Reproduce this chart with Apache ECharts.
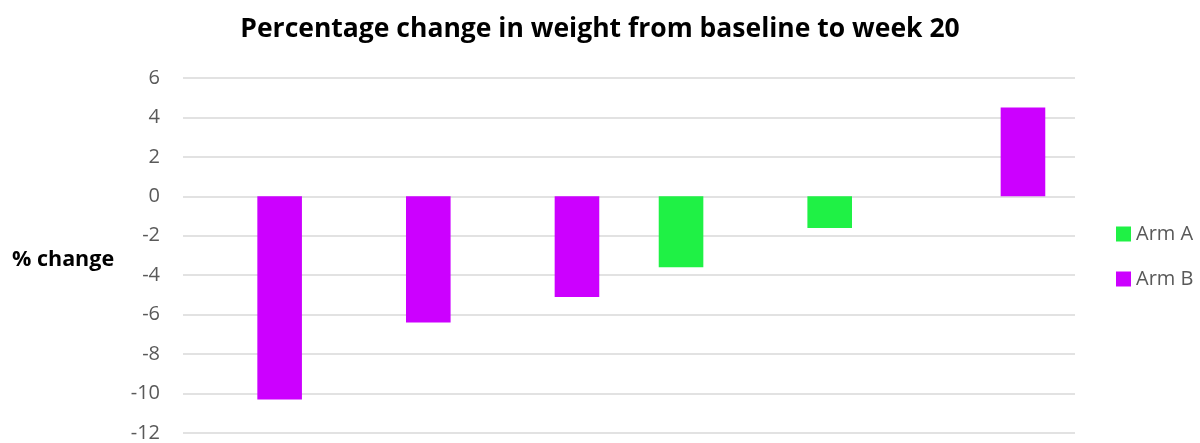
<!DOCTYPE html>
<html>
<head>
<meta charset="utf-8">
<script src="https://cdn.jsdelivr.net/npm/echarts@6/dist/echarts.min.js"></script>
<style>
html,body{margin:0;padding:0;background:#fff;}
#chart{width:1200px;height:443px;}
</style>
</head>
<body>
<div id="chart"></div>
<script>
const categories = ['1', '2', '3', '4', '5', '6'];
const armA = [null, null, null, -3.6, -1.6, null];
const armB = [-10.3, -6.4, -5.1, null, null, 4.5];
const yTicks = { min: -12, max: 6, interval: 2 };

const chart = echarts.init(document.getElementById('chart'));
chart.setOption({
  animation: false,
  backgroundColor: '#ffffff',
  title: [{
    text: 'Percentage change in weight from baseline to week 20',
    left: 'center',
    top: 11,
    textStyle: { fontFamily: 'Open Sans', fontWeight: 'bold', fontSize: 26.5, color: '#000000' }
  }, {
    text: '% change',
    left: 7,
    top: 244,
    textStyle: { fontFamily: 'Open Sans', fontWeight: 'bold', fontSize: 21.5, color: '#000000' }
  }],
  legend: {
    orient: 'vertical',
    left: 1111,
    top: 219,
    itemWidth: 15,
    itemHeight: 15,
    itemGap: 25,
    icon: 'rect',
    textStyle: { fontFamily: 'Open Sans', fontSize: 20, color: '#595959' },
    data: ['Arm A', 'Arm B']
  },
  grid: { left: 183, right: 125, top: 78, bottom: 6, containLabel: false },
  xAxis: {
    type: 'category',
    data: categories,
    axisLine: { show: false },
    axisTick: { show: false },
    axisLabel: { show: false },
    splitLine: { show: false }
  },
  yAxis: {
    type: 'value',
    min: yTicks.min,
    max: yTicks.max,
    interval: yTicks.interval,
    axisLine: { show: false },
    axisTick: { show: false },
    axisLabel: { fontFamily: 'Open Sans', fontSize: 20, color: '#595959', margin: 23 },
    splitLine: { lineStyle: { color: '#d9d9d9', width: 1.5 } }
  },
  series: [{
    name: 'Arm A',
    type: 'bar',
    data: armA,
    barGap: '0%',
    barCategoryGap: '40%',
    itemStyle: { color: '#1ff145' }
  }, {
    name: 'Arm B',
    type: 'bar',
    data: armB,
    barGap: '0%',
    barCategoryGap: '40%',
    itemStyle: { color: '#cc00ff' }
  }]
});
</script>
</body>
</html>
